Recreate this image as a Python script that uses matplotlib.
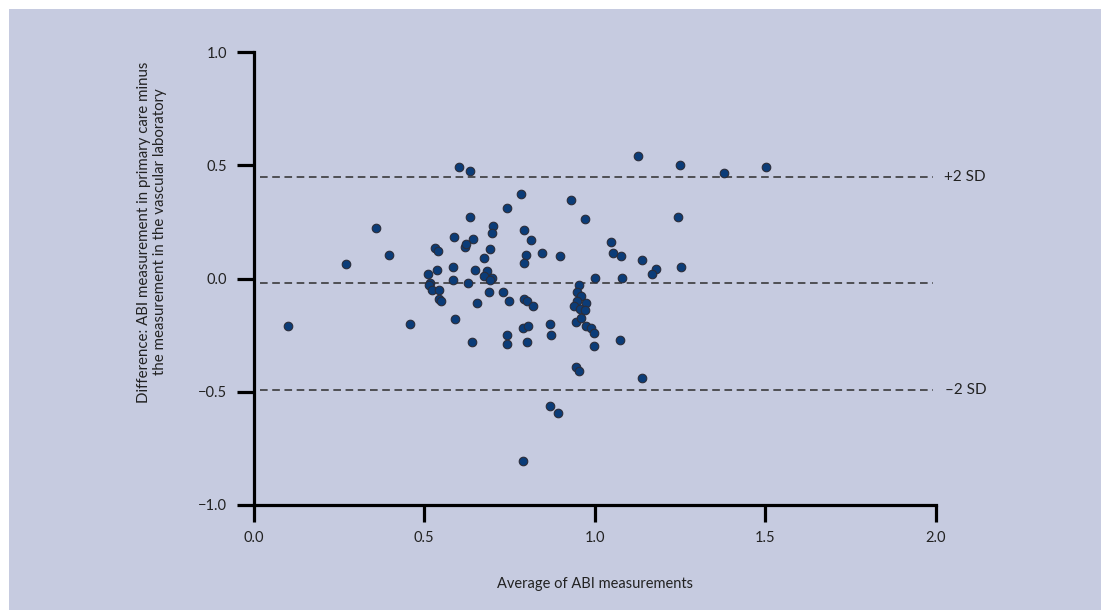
import matplotlib.pyplot as plt
from matplotlib.patches import Rectangle

avg_abi = [0.603, 0.633, 0.784, 0.743, 0.633, 0.703, 0.359, 0.793, 0.700, 0.813,
           0.589, 0.644, 0.532, 0.540, 0.620, 0.624, 0.693, 0.799, 0.793, 0.398,
           0.674, 0.270, 0.584, 0.539, 0.649, 0.684, 0.674, 0.700, 0.694, 0.510,
           0.584, 0.628, 0.518, 0.514, 0.524, 0.545, 0.690, 0.730, 0.545, 0.549,
           0.750, 0.654, 0.793, 0.800, 0.819, 0.591, 0.101, 0.460, 0.789, 0.803,
           0.743, 0.743, 0.640, 0.800, 1.128, 1.250, 1.503, 1.378, 0.930, 0.970,
           1.245, 1.049, 1.053, 1.078, 1.138, 1.180, 1.169, 1.254, 0.844, 0.898,
           1.001, 1.080, 0.954, 0.949, 0.960, 0.948, 0.974, 0.938, 0.958, 0.970,
           0.870, 0.945, 0.960, 0.974, 0.989, 0.999, 0.999, 1.075, 0.873, 0.944,
           0.954, 1.138, 0.869, 0.893, 0.789]
diff_abi = [0.494, 0.473, 0.373, 0.310, 0.270, 0.233, 0.224, 0.213, 0.202, 0.171,
            0.183, 0.173, 0.133, 0.121, 0.140, 0.151, 0.129, 0.104, 0.070, 0.104,
            0.092, 0.063, 0.049, 0.039, 0.039, 0.032, 0.010, 0.002, -0.008, 0.021,
            -0.008, -0.018, -0.018, -0.029, -0.051, -0.051, -0.060, -0.060, -0.089, -0.101,
            -0.099, -0.110, -0.089, -0.101, -0.121, -0.180, -0.208, -0.202, -0.219, -0.210,
            -0.249, -0.289, -0.279, -0.279, 0.542, 0.503, 0.494, 0.464, 0.345, 0.263,
            0.272, 0.161, 0.111, 0.101, 0.080, 0.043, 0.020, 0.051, 0.111, 0.101,
            0.002, 0.001, -0.030, -0.061, -0.077, -0.101, -0.107, -0.121, -0.136, -0.138,
            -0.201, -0.191, -0.176, -0.210, -0.217, -0.242, -0.297, -0.272, -0.249, -0.389,
            -0.410, -0.441, -0.563, -0.592, -0.804]

mean_diff = -0.019
upper_sd = 0.449
lower_sd = -0.492
ref_labels = ['+2 SD', '\u20132 SD']

x_ticks = [0.0, 0.5, 1.0, 1.5, 2.0]
y_ticks = [-1.0, -0.5, 0.0, 0.5, 1.0]

bg = '#c6cbe0'
plt.rcParams['font.family'] = ['Lato', 'DejaVu Sans']

fig = plt.figure(figsize=(11.01, 6.10), dpi=100, facecolor='white')
fig.patches.append(Rectangle((9 / 1101, 0), 1, 1 - 9 / 610, transform=fig.transFigure,
                             facecolor=bg, edgecolor='none', zorder=-10))

ax = fig.add_axes([253.5 / 1101, 105 / 610, (936 - 253.5) / 1101, (505 - 52) / 610])
ax.set_zorder(2)
ax.set_facecolor('none')
ax.set_xlim(0, 2)
ax.set_ylim(-1, 1)

for s in ['top', 'right']:
    ax.spines[s].set_visible(False)
for s in ['left', 'bottom']:
    ax.spines[s].set_linewidth(2.3)
    ax.spines[s].set_color('black')

ax.set_xticks(x_ticks)
ax.set_yticks(y_ticks)
ax.set_xticklabels([f'{v:.1f}' for v in x_ticks])
ax.set_yticklabels([f'{v:.1f}'.replace('-', '\u2212') for v in y_ticks])
ax.tick_params(direction='out', length=12.5, width=2.3, pad=6.5, labelsize=10.5, colors='black',
               labelcolor='#222222')

# reference lines
for yv in [upper_sd, mean_diff, lower_sd]:
    ax.hlines(yv, 0.02, 1.99, colors='#2e2e2e', linewidth=1.1, linestyles=(0, (5, 3)))
ax.text(2.022, upper_sd, ref_labels[0], va='center', ha='left', fontsize=11, color='#222222')
ax.text(2.025, lower_sd, ref_labels[1], va='center', ha='left', fontsize=11, color='#222222')

ax.scatter(avg_abi, diff_abi, s=38, c='#0b3c78', edgecolors='#2b2d3a', linewidths=0.8,
           zorder=3, clip_on=False)

ax.set_xlabel('Average of ABI measurements', fontsize=10.5, color='#222222', labelpad=23)
fig.text(152 / 1101, 1 - 232 / 610,
         'Difference: ABI measurement in primary care minus\nthe measurement in the vascular laboratory',
         rotation=90, ha='center', va='center', multialignment='center', fontsize=10.8,
         color='#222222', linespacing=1.25)

fig.savefig('out.png', dpi=100, facecolor=fig.get_facecolor())
